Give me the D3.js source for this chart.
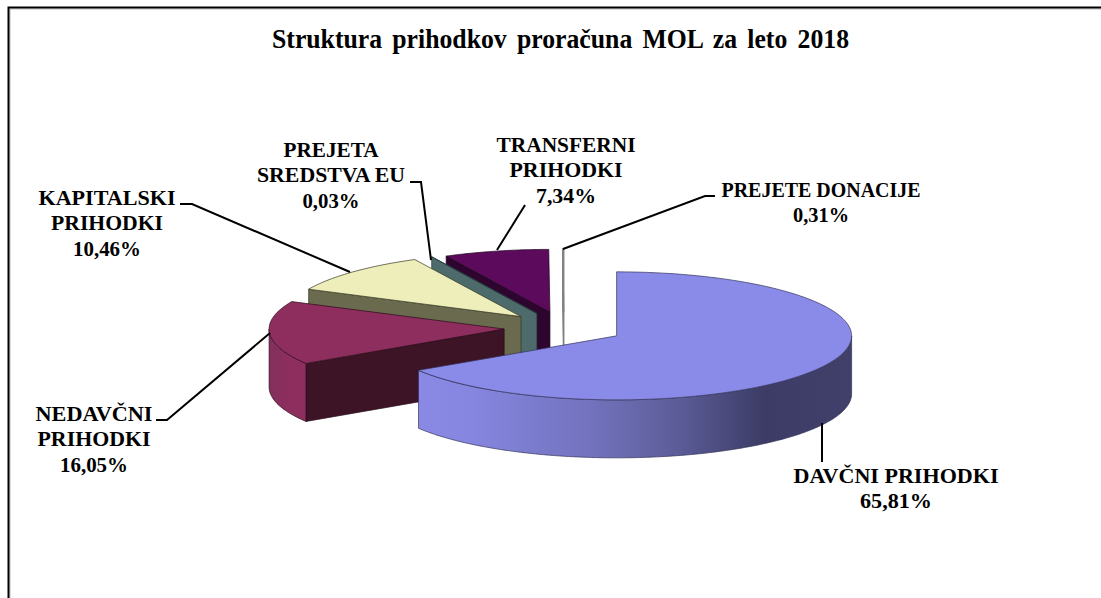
<!DOCTYPE html>
<html>
<head>
<meta charset="utf-8">
<script src="https://cdn.jsdelivr.net/npm/d3@7"></script>
<style>
  html, body { margin: 0; background: #fff; }
  svg { display: block; }
  text { font-family: "Liberation Serif", "Times New Roman", serif; font-weight: bold; fill: #000; }
</style>
</head>
<body>
<div id="chart"></div>
<script>
const width = 1101, height = 598;

const title = "Struktura prihodkov proračuna MOL za leto 2018";
const categories = ["DAVČNI PRIHODKI", "NEDAVČNI PRIHODKI", "KAPITALSKI PRIHODKI", "PREJETA SREDSTVA EU", "TRANSFERNI PRIHODKI", "PREJETE DONACIJE"];
const shares = [65.81, 16.05, 10.46, 0.03, 7.34, 0.31];
const labelLines = [["DAVČNI PRIHODKI"], ["NEDAVČNI", "PRIHODKI"], ["KAPITALSKI", "PRIHODKI"], ["PREJETA", "SREDSTVA EU"], ["TRANSFERNI", "PRIHODKI"], ["PREJETE DONACIJE"]];

const topColors = ["#8a8ae8", "#8e2e5e", "#eeeebb", "#7fa6a8", "#5c0a5c", "#ffffff"];
const faceColors = ["#45456f", "#3c1425", "#6a6a4e", "#4e6b6b", "#2e052e", "#ffffff"];
const edgeColors = ["#33335a", "#2a0c1a", "#33331f", "#243a3a", "#1d031d", "#808080"];

// where each label sits, how wide its rows run, and its leader line, in page pixels
const labelPos = [[896, 483], [94, 421], [107, 205], [331, 157], [566, 152], [821, 197]];
const rowWidths = [[205, 72], [117, 113, 68], [137, 112, 68], [95, 148, 57], [139, 113, 60], [199, 56]];
const leaders = [
  [[822, 423], [822, 462]],
  [[156, 420], [167, 420], [270, 333]],
  [[180, 204], [192, 204], [350, 272]],
  [[410, 182], [421, 182], [431, 260]],
  [[525, 205], [497, 250]],
  [[563, 249], [705, 196], [715, 196]]
];

const cx = 564, cy = 328, rx = 235, ry = 64, depth = 58, explode = 60;
// the slices at the very back come out a bit smaller in the 3D view
const radiusFactor = [1, 1, 1, 0.99, 0.98, 0.98];

const fmt = d3.formatLocale({ decimal: ",", thousands: ".", grouping: [3], currency: ["", ""] }).format(".2f");

// Excel squeezes the tiny last slice in the 3D view, so the angle is not quite linear at the end
const angle = d3.scaleLinear().domain([0, 0.9969, 1]).range([0, 359.7, 360].map(d => d * Math.PI / 180));

const pie = d3.pie().sort(null).value(d => d).startAngle(0).endAngle(1);
const slices = pie(shares).map((p, i) => {
  const a0 = angle(p.startAngle), a1 = angle(p.endAngle);
  const mid = (a0 + a1) / 2;
  return {
    i, a0, a1,
    k: radiusFactor[i],
    ox: cx + explode * Math.sin(mid),
    oy: cy - explode * Math.cos(mid) * ry / rx
  };
});

const rim = (s, a, drop = 0) => [s.ox + rx * s.k * Math.sin(a), s.oy - ry * s.k * Math.cos(a) + drop];
const line = d3.line();

function arcPoints(s, from, to, drop) {
  const n = Math.max(2, Math.ceil((to - from) * 60));
  return d3.range(n + 1).map(k => rim(s, from + (to - from) * k / n, drop));
}

const svg = d3.select("#chart").append("svg").attr("width", width).attr("height", height);
const defs = svg.append("defs");

const gradA = defs.append("linearGradient").attr("id", "wall0").attr("gradientUnits", "userSpaceOnUse")
  .attr("x1", 418).attr("x2", 851).attr("y1", 0).attr("y2", 0);
[[0, "#8a8ae6"], [0.12, "#8686e0"], [0.4, "#7272bd"], [0.6, "#5c5c98"], [0.8, "#3c3c66"], [1, "#40406b"]]
  .forEach(d => gradA.append("stop").attr("offset", d[0]).attr("stop-color", d[1]));
const gradB = defs.append("linearGradient").attr("id", "wall1").attr("gradientUnits", "userSpaceOnUse")
  .attr("x1", 269).attr("x2", 310).attr("y1", 0).attr("y2", 0);
[[0, "#82305c"], [0.5, "#8e2e5e"], [1, "#8e2e5e"]]
  .forEach(d => gradB.append("stop").attr("offset", d[0]).attr("stop-color", d[1]));

// frame, only the top and left edges are in the picture
svg.append("path").attr("d", "M10,598V9H1101").attr("fill", "none").attr("stroke", "#bbb").attr("stroke-width", 1);
svg.append("path").attr("d", "M8.5,598V7.5H1101").attr("fill", "none").attr("stroke", "#000").attr("stroke-width", 2);

svg.append("text").attr("x", 560.5).attr("y", 47.5).attr("text-anchor", "middle")
  .attr("textLength", 577).attr("lengthAdjust", "spacingAndGlyphs")
  .style("font-size", "27px").style("word-spacing", "4px").text(title);

const pieG = svg.append("g");

// painter's order: back slices first, the big front slice last
[5, 4, 3, 2, 1, 0].forEach(i => {
  const s = slices[i];
  const g = pieG.append("g").attr("class", "slice").datum(s);
  const apex = [s.ox, s.oy];
  const apexLow = [s.ox, s.oy + depth];
  const sw = i === 5 ? 1.2 : 0.7;

  // flat cut face on the start side, seen when it points to the viewer
  if (Math.sin(s.a0) < -1e-6) {
    g.append("path")
      .attr("d", line([apex, rim(s, s.a0), rim(s, s.a0, depth), apexLow]) + "Z")
      .attr("fill", faceColors[i]).attr("stroke", edgeColors[i]).attr("stroke-width", sw);
  }

  // outer curved wall, front half only
  const from = Math.max(s.a0, Math.PI / 2), to = Math.min(s.a1, 3 * Math.PI / 2);
  if (to > from) {
    const pts = arcPoints(s, from, to, 0).concat(arcPoints(s, from, to, depth).reverse());
    g.append("path").attr("d", line(pts) + "Z")
      .attr("fill", i === 0 ? "url(#wall0)" : i === 1 ? "url(#wall1)" : faceColors[i])
      .attr("stroke", edgeColors[i]).attr("stroke-width", sw);
  }

  g.append("path")
    .attr("d", line([apex].concat(arcPoints(s, s.a0, s.a1, 0))) + "Z")
    .attr("fill", topColors[i]).attr("stroke", edgeColors[i]).attr("stroke-width", sw);
});

svg.append("g").selectAll("path").data(leaders).join("path")
  .attr("d", d => line(d)).attr("fill", "none").attr("stroke", "#000").attr("stroke-width", 2);

svg.append("g").selectAll("g").data(categories).join("g")
  .attr("class", "label")
  .each(function (d, i) {
    const rows = labelLines[i].concat(fmt(shares[i]) + "%");
    d3.select(this).selectAll("text").data(rows).join("text")
      .attr("x", labelPos[i][0])
      .attr("y", (r, k) => labelPos[i][1] + k * 25.4)
      .attr("text-anchor", "middle")
      .attr("textLength", (r, k) => rowWidths[i][k])
      .attr("lengthAdjust", "spacingAndGlyphs")
      .style("font-size", "21px")
      .text(r => r);
  });
</script>
</body>
</html>
